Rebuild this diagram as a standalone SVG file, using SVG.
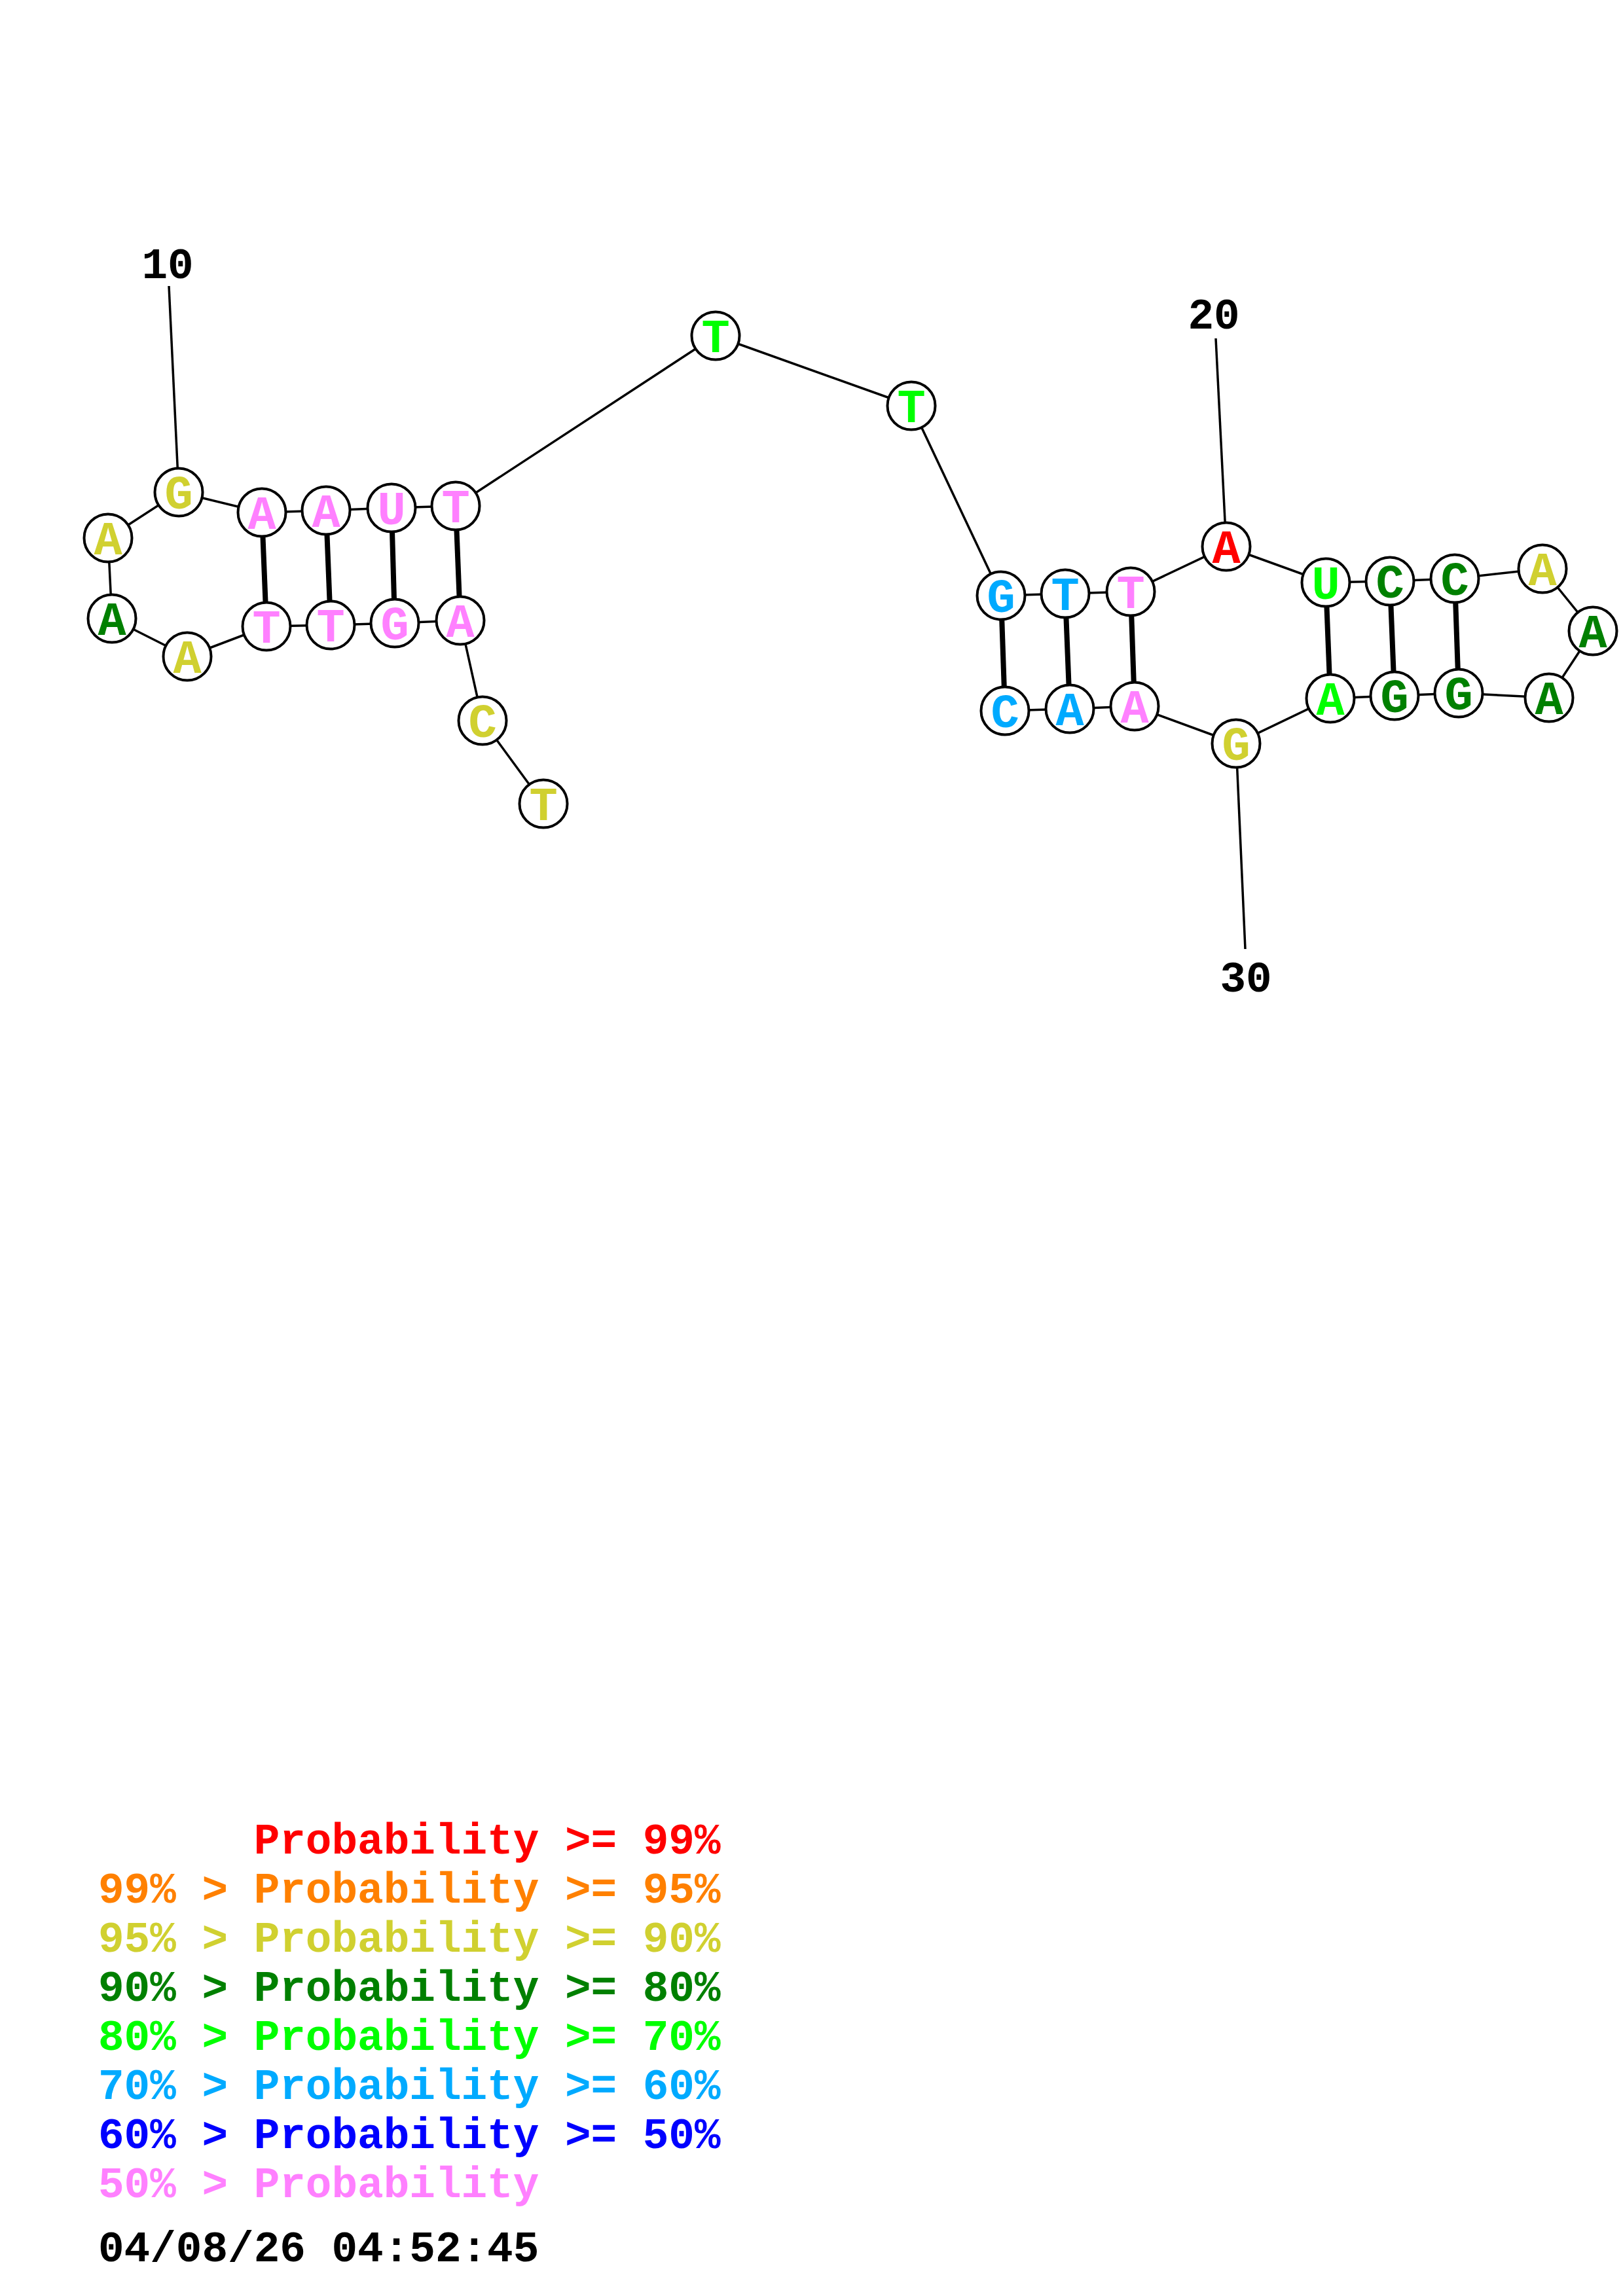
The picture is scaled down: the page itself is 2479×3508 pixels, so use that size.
<svg xmlns="http://www.w3.org/2000/svg" width="2479" height="3508" viewBox="0 0 2479 3508">
<style>
.bb{stroke:#000;stroke-width:3.5;fill:none}
.pr{stroke:#000;stroke-width:8;fill:none}
.nc{fill:#fff;stroke:#000;stroke-width:4}
.nt{font-family:"Liberation Mono","Courier New",monospace;font-weight:bold;font-size:72px;text-anchor:middle}
.lb{font-family:"Liberation Mono","Courier New",monospace;font-weight:bold;font-size:66px;fill:#000}
.lg{font-family:"Liberation Mono","Courier New",monospace;font-weight:bold;font-size:66px;white-space:pre}
.red{fill:#FF0000}.org{fill:#FF8000}.yel{fill:#D0D030}.dgr{fill:#008000}.grn{fill:#00FF00}.sky{fill:#00AAFF}.blu{fill:#0000FF}.pnk{fill:#FF80FF}
</style>
<rect width="2479" height="3508" fill="#fff"/>
<g id="connectors">
<polyline class="bb" points="830,1228 737,1101 703,948 603,952 505,955 407,957 286,1003 171,945 165,822 273,752 400,783 498,780 598,776 696,773 1093,513 1392,620 1529,910 1627,907 1727,904 1873,835 2025,890 2123,888 2222,884 2356,869 2433,964 2366,1066 2228,1059 2130,1063 2032,1067 1888,1136 1733,1079 1634,1083 1535,1086"/>
<line class="pr" x1="703" y1="948" x2="696" y2="773"/>
<line class="pr" x1="603" y1="952" x2="598" y2="776"/>
<line class="pr" x1="505" y1="955" x2="498" y2="780"/>
<line class="pr" x1="407" y1="957" x2="400" y2="783"/>
<line class="pr" x1="1529" y1="910" x2="1535" y2="1086"/>
<line class="pr" x1="1627" y1="907" x2="1634" y2="1083"/>
<line class="pr" x1="1727" y1="904" x2="1733" y2="1079"/>
<line class="pr" x1="2025" y1="890" x2="2032" y2="1067"/>
<line class="pr" x1="2123" y1="888" x2="2130" y2="1063"/>
<line class="pr" x1="2222" y1="884" x2="2228" y2="1059"/>
<line class="bb" x1="273" y1="752" x2="258" y2="437"/>
<line class="bb" x1="1873" y1="835" x2="1857" y2="517"/>
<line class="bb" x1="1888" y1="1136" x2="1902" y2="1450"/>
</g>
<g id="n1"><circle class="nc" cx="830" cy="1228" r="36.5"/><text class="nt yel" x="830" y="1253">T</text></g>
<g id="n2"><circle class="nc" cx="737" cy="1101" r="36.5"/><text class="nt yel" x="737" y="1126">C</text></g>
<g id="n3"><circle class="nc" cx="703" cy="948" r="36.5"/><text class="nt pnk" x="703" y="973">A</text></g>
<g id="n4"><circle class="nc" cx="603" cy="952" r="36.5"/><text class="nt pnk" x="603" y="977">G</text></g>
<g id="n5"><circle class="nc" cx="505" cy="955" r="36.5"/><text class="nt pnk" x="505" y="980">T</text></g>
<g id="n6"><circle class="nc" cx="407" cy="957" r="36.5"/><text class="nt pnk" x="407" y="982">T</text></g>
<g id="n7"><circle class="nc" cx="286" cy="1003" r="36.5"/><text class="nt yel" x="286" y="1028">A</text></g>
<g id="n8"><circle class="nc" cx="171" cy="945" r="36.5"/><text class="nt dgr" x="171" y="970">A</text></g>
<g id="n9"><circle class="nc" cx="165" cy="822" r="36.5"/><text class="nt yel" x="165" y="847">A</text></g>
<g id="n10"><circle class="nc" cx="273" cy="752" r="36.5"/><text class="nt yel" x="273" y="777">G</text></g>
<g id="n11"><circle class="nc" cx="400" cy="783" r="36.5"/><text class="nt pnk" x="400" y="808">A</text></g>
<g id="n12"><circle class="nc" cx="498" cy="780" r="36.5"/><text class="nt pnk" x="498" y="805">A</text></g>
<g id="n13"><circle class="nc" cx="598" cy="776" r="36.5"/><text class="nt pnk" x="598" y="801">U</text></g>
<g id="n14"><circle class="nc" cx="696" cy="773" r="36.5"/><text class="nt pnk" x="696" y="798">T</text></g>
<g id="n15"><circle class="nc" cx="1093" cy="513" r="36.5"/><text class="nt grn" x="1093" y="538">T</text></g>
<g id="n16"><circle class="nc" cx="1392" cy="620" r="36.5"/><text class="nt grn" x="1392" y="645">T</text></g>
<g id="n17"><circle class="nc" cx="1529" cy="910" r="36.5"/><text class="nt sky" x="1529" y="935">G</text></g>
<g id="n18"><circle class="nc" cx="1627" cy="907" r="36.5"/><text class="nt sky" x="1627" y="932">T</text></g>
<g id="n19"><circle class="nc" cx="1727" cy="904" r="36.5"/><text class="nt pnk" x="1727" y="929">T</text></g>
<g id="n20"><circle class="nc" cx="1873" cy="835" r="36.5"/><text class="nt red" x="1873" y="860">A</text></g>
<g id="n21"><circle class="nc" cx="2025" cy="890" r="36.5"/><text class="nt grn" x="2025" y="915">U</text></g>
<g id="n22"><circle class="nc" cx="2123" cy="888" r="36.5"/><text class="nt dgr" x="2123" y="913">C</text></g>
<g id="n23"><circle class="nc" cx="2222" cy="884" r="36.5"/><text class="nt dgr" x="2222" y="909">C</text></g>
<g id="n24"><circle class="nc" cx="2356" cy="869" r="36.5"/><text class="nt yel" x="2356" y="894">A</text></g>
<g id="n25"><circle class="nc" cx="2433" cy="964" r="36.5"/><text class="nt dgr" x="2433" y="989">A</text></g>
<g id="n26"><circle class="nc" cx="2366" cy="1066" r="36.5"/><text class="nt dgr" x="2366" y="1091">A</text></g>
<g id="n27"><circle class="nc" cx="2228" cy="1059" r="36.5"/><text class="nt dgr" x="2228" y="1084">G</text></g>
<g id="n28"><circle class="nc" cx="2130" cy="1063" r="36.5"/><text class="nt dgr" x="2130" y="1088">G</text></g>
<g id="n29"><circle class="nc" cx="2032" cy="1067" r="36.5"/><text class="nt grn" x="2032" y="1092">A</text></g>
<g id="n30"><circle class="nc" cx="1888" cy="1136" r="36.5"/><text class="nt yel" x="1888" y="1161">G</text></g>
<g id="n31"><circle class="nc" cx="1733" cy="1079" r="36.5"/><text class="nt pnk" x="1733" y="1104">A</text></g>
<g id="n32"><circle class="nc" cx="1634" cy="1083" r="36.5"/><text class="nt sky" x="1634" y="1108">A</text></g>
<g id="n33"><circle class="nc" cx="1535" cy="1086" r="36.5"/><text class="nt sky" x="1535" y="1111">C</text></g>
<g id="labels">
<text class="lb" x="256" y="425" text-anchor="middle">10</text>
<text class="lb" x="1854" y="502" text-anchor="middle">20</text>
<text class="lb" x="1903" y="1515" text-anchor="middle">30</text>
</g>
<g id="legend">
<text class="lg red" x="150" y="2832" xml:space="preserve">      Probability &gt;= 99%</text>
<text class="lg org" x="150" y="2907" xml:space="preserve">99% &gt; Probability &gt;= 95%</text>
<text class="lg yel" x="150" y="2982" xml:space="preserve">95% &gt; Probability &gt;= 90%</text>
<text class="lg dgr" x="150" y="3057" xml:space="preserve">90% &gt; Probability &gt;= 80%</text>
<text class="lg grn" x="150" y="3132" xml:space="preserve">80% &gt; Probability &gt;= 70%</text>
<text class="lg sky" x="150" y="3207" xml:space="preserve">70% &gt; Probability &gt;= 60%</text>
<text class="lg blu" x="150" y="3282" xml:space="preserve">60% &gt; Probability &gt;= 50%</text>
<text class="lg pnk" x="150" y="3357" xml:space="preserve">50% &gt; Probability</text>
<text class="lg" x="150" y="3455" fill="#000">04/08/26 04:52:45</text>
</g>
</svg>
